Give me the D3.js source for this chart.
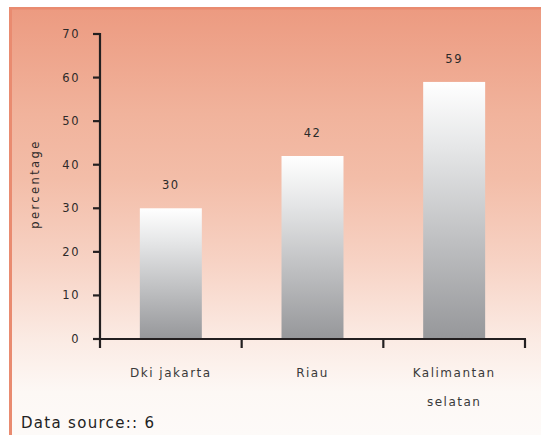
<!DOCTYPE html>
<html>
<head>
<meta charset="utf-8">
<script src="https://cdn.jsdelivr.net/npm/d3@7/dist/d3.min.js"></script>
<style>
  html, body { margin: 0; padding: 0; background: #ffffff; }
  svg { display: block; }
</style>
</head>
<body>
<svg id="chart" width="541" height="435"></svg>
<script>
// Chart data
const categories = ["Dki jakarta", "Riau", "Kalimantan selatan"];
const categoryLines = [["Dki jakarta"], ["Riau"], ["Kalimantan", "selatan"]];
const values = [30, 42, 59];
const yTicks = [0, 10, 20, 30, 40, 50, 60, 70];
const yLabel = "percentage";
const sourceNote = "Data source:: 6";

const svg = d3.select("#chart");
const defs = svg.append("defs");

// Panel background: salmon fading to near-white
const bg = defs.append("linearGradient")
  .attr("id", "panelGrad").attr("x1", 0).attr("y1", 0).attr("x2", 0).attr("y2", 1);
[[0, "#EC9A80"], [0.25, "#F1B39C"], [0.4, "#F3BDA8"], [0.6, "#F7D3C5"], [0.78, "#FBEBE4"], [0.9, "#FDF8F5"], [1, "#FDFAF8"]]
  .forEach(([o, c]) => bg.append("stop").attr("offset", o).attr("stop-color", c));

// Bars: white top to grey base
const barGrad = defs.append("linearGradient")
  .attr("id", "barGrad").attr("x1", 0).attr("y1", 0).attr("x2", 0).attr("y2", 1);
[[0, "#FFFFFF"], [0.25, "#E6E7E8"], [1, "#96979A"]]
  .forEach(([o, c]) => barGrad.append("stop").attr("offset", o).attr("stop-color", c));

svg.append("rect").attr("x", 9).attr("y", 7).attr("width", 532).attr("height", 428)
  .attr("fill", "url(#panelGrad)");
svg.append("rect").attr("x", 9).attr("y", 7).attr("width", 532).attr("height", 2.5).attr("fill", "#E98B70");
svg.append("rect").attr("x", 9).attr("y", 7).attr("width", 3).attr("height", 428).attr("fill", "#E98B70");

// Scales
const y = d3.scaleLinear().domain([0, 70]).range([339, 34]);
const x = d3.scaleBand().domain(categories).range([100, 525])
  .paddingInner(0.5625).paddingOuter(0.28125);

const axisColor = "#231F20";
const font = "DejaVu Sans, Verdana, sans-serif";

// Bars
svg.append("g").selectAll("rect").data(values).join("rect")
  .attr("x", (d, i) => x(categories[i]))
  .attr("y", d => y(d))
  .attr("width", x.bandwidth())
  .attr("height", d => y(0) - y(d))
  .attr("fill", "url(#barGrad)");

// Value labels
svg.append("g").selectAll("text").data(values).join("text")
  .attr("x", (d, i) => x(categories[i]) + x.bandwidth() / 2)
  .attr("y", d => y(d) - 19)
  .attr("text-anchor", "middle")
  .attr("font-family", font).attr("font-size", 11.5).attr("letter-spacing", 1.5)
  .attr("fill", "#2a2a2a")
  .text(d => d);

// Y axis
const yAxis = svg.append("g");
yAxis.append("line")
  .attr("x1", 100).attr("x2", 100).attr("y1", y(70) - 1).attr("y2", y(0) + 9)
  .attr("stroke", axisColor).attr("stroke-width", 2.2);
yAxis.selectAll("line.tick").data(yTicks).join("line").attr("class", "tick")
  .attr("x1", 93).attr("x2", 100).attr("y1", d => y(d)).attr("y2", d => y(d))
  .attr("stroke", axisColor).attr("stroke-width", 2.2);
yAxis.selectAll("text").data(yTicks).join("text")
  .attr("x", 80).attr("y", d => y(d) + 4)
  .attr("text-anchor", "end")
  .attr("font-family", font).attr("font-size", 11.5).attr("letter-spacing", 1.5)
  .attr("fill", "#2e2a29")
  .text(d => d);

// Y axis title
svg.append("text")
  .attr("transform", "translate(39,184) rotate(-90)")
  .attr("text-anchor", "middle")
  .attr("font-family", font).attr("font-size", 11.5).attr("letter-spacing", 2.4)
  .attr("fill", "#2e2a29")
  .text(yLabel);

// X axis with ticks at category boundaries
const xAxis = svg.append("g");
const [x0, x1] = x.range();
xAxis.append("line")
  .attr("x1", x0).attr("x2", x1 + 1).attr("y1", y(0)).attr("y2", y(0))
  .attr("stroke", axisColor).attr("stroke-width", 2.2);
const boundaries = d3.range(1, categories.length + 1).map(i => x0 + i * x.step());
xAxis.selectAll("line.tick").data(boundaries).join("line").attr("class", "tick")
  .attr("x1", d => d).attr("x2", d => d).attr("y1", y(0)).attr("y2", y(0) + 9)
  .attr("stroke", axisColor).attr("stroke-width", 2.2);

// Category labels
const catG = svg.append("g");
categoryLines.forEach((lines, i) => {
  const cx = x(categories[i]) + x.bandwidth() / 2;
  lines.forEach((ln, j) => {
    catG.append("text")
      .attr("x", cx).attr("y", 377 + j * 29)
      .attr("text-anchor", "middle")
      .attr("font-family", font).attr("font-size", 12).attr("letter-spacing", 1.5)
      .attr("fill", "#3a3a3a")
      .text(ln);
  });
});

// Source note
svg.append("text")
  .attr("x", 21).attr("y", 428)
  .attr("font-family", font).attr("font-size", 15).attr("letter-spacing", 1.3)
  .attr("fill", "#222222")
  .text(sourceNote);
</script>
</body>
</html>
